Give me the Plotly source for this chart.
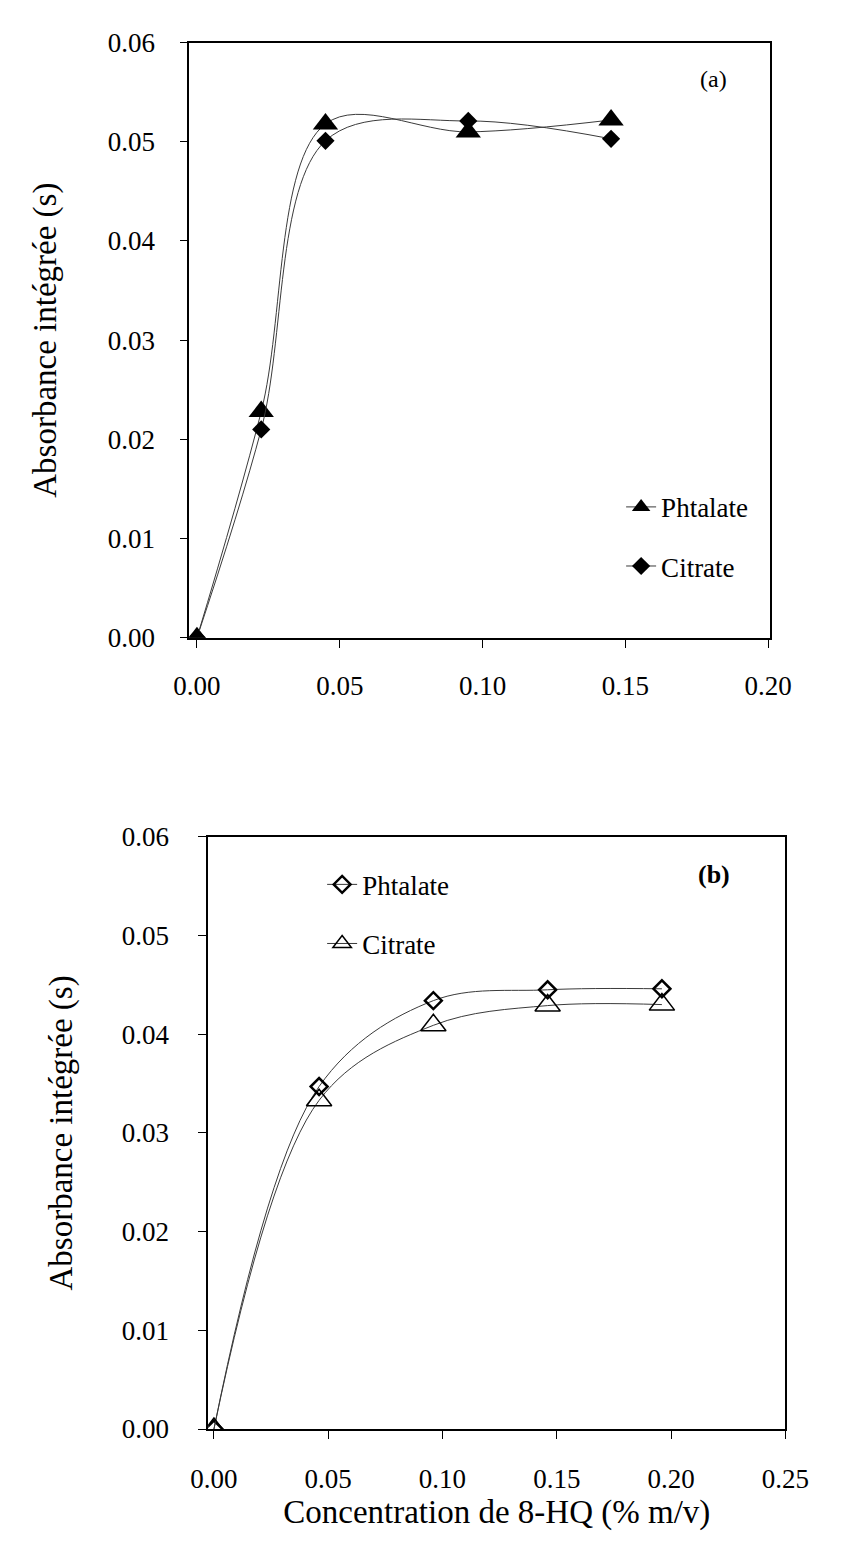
import plotly.graph_objects as go

# Panel (a)
xa = [0.0, 0.0225, 0.045, 0.095, 0.145]
ya_phtalate = [0.0, 0.0228, 0.0518, 0.0510, 0.0522]
ya_citrate = [0.0, 0.0210, 0.0501, 0.0521, 0.0503]

# Panel (b)
xb = [0.0, 0.046, 0.096, 0.146, 0.196]
yb_phtalate = [0.0, 0.0347, 0.0434, 0.0445, 0.0446]
yb_citrate = [0.0, 0.0333, 0.0409, 0.0429, 0.0430]

yticks = [0.0, 0.01, 0.02, 0.03, 0.04, 0.05, 0.06]
xticks_a = [0.0, 0.05, 0.10, 0.15, 0.20]
xticks_b = [0.0, 0.05, 0.10, 0.15, 0.20, 0.25]

FONT = "Liberation Serif"
OFF = 8  # default page body margin
W, H = 842 - 2 * OFF, 1553 - 2 * OFF


def px(v):
    return (v - OFF) / W


def py(v):
    return 1 - (v - OFF) / H


fig = go.Figure()

line_style = dict(color="#3a3a3a", width=1, shape="spline", smoothing=1)

fig.add_trace(go.Scatter(x=xa, y=ya_phtalate, mode="lines+markers", name="Phtalate",
                         line=line_style, legendgroup="a1",
                         marker=dict(symbol="triangle-up", size=22, color="black"),
                         xaxis="x", yaxis="y", legend="legend"))
fig.add_trace(go.Scatter(x=xa, y=ya_citrate, mode="lines+markers", name="Citrate",
                         line=line_style, legendgroup="a2",
                         marker=dict(symbol="diamond", size=14, color="black"),
                         xaxis="x", yaxis="y", legend="legend"))
fig.add_trace(go.Scatter(x=xb, y=yb_phtalate, mode="lines+markers", name="Phtalate",
                         line=line_style, legendgroup="b1",
                         marker=dict(symbol="diamond-open", size=13, color="black",
                                     line=dict(width=2.5, color="black")),
                         xaxis="x2", yaxis="y2", legend="legend2"))
fig.add_trace(go.Scatter(x=xb, y=yb_citrate, mode="lines+markers", name="Citrate",
                         line=line_style, legendgroup="b2",
                         marker=dict(symbol="triangle-up-open", size=22, color="black",
                                     line=dict(width=1.5, color="black")),
                         xaxis="x2", yaxis="y2", legend="legend2"))

axis_common = dict(showline=True, linecolor="black", linewidth=1.5, mirror=True,
                   showgrid=False, zeroline=False, ticks="outside", ticklen=8,
                   tickcolor="black", tickwidth=1.2,
                   tickfont=dict(family=FONT, size=27, color="black"))

title_font = dict(family=FONT, size=33, color="black")
legend_font = dict(family=FONT, size=27, color="black")

fig.update_layout(
    width=W, height=H,
    margin=dict(l=0, r=0, t=0, b=0),
    paper_bgcolor="white", plot_bgcolor="white",
    font=dict(family=FONT, color="black"),
    xaxis=dict(**axis_common, domain=[px(180), px(792)], range=[-0.0027, 0.2007],
               tickvals=xticks_a, tickformat=".2f", anchor="y", ticklabelstandoff=15),
    yaxis=dict(**axis_common, domain=[py(635), py(28)], range=[0, 0.06],
               tickvals=yticks, tickformat=".2f", anchor="x", ticklabelstandoff=19,
               title=dict(text="Absorbance intégrée (s)", font=title_font, standoff=41)),
    xaxis2=dict(**axis_common, domain=[px(200), px(808)], range=[-0.0025, 0.25],
                tickvals=xticks_b, tickformat=".2f", anchor="y2", ticklabelstandoff=17,
                title=dict(text="Concentration de 8-HQ (% m/v)", font=title_font, standoff=0)),
    yaxis2=dict(**axis_common, domain=[py(1442), py(838)], range=[0, 0.06],
                tickvals=yticks, tickformat=".2f", anchor="x2", ticklabelstandoff=24,
                title=dict(text="Absorbance intégrée (s)", font=title_font, standoff=39)),
    legend=dict(x=px(635), y=py(477), xanchor="left", yanchor="top",
                bgcolor="rgba(0,0,0,0)", font=legend_font,
                itemsizing="trace", tracegroupgap=21),
    legend2=dict(x=px(320), y=py(862), xanchor="left", yanchor="top",
                 bgcolor="rgba(0,0,0,0)", font=legend_font,
                 itemsizing="trace", tracegroupgap=21),
    showlegend=True,
)

fig.add_annotation(text="(a)", xref="paper", yref="paper", x=px(749), y=py(50),
                   showarrow=False, font=dict(family=FONT, size=24, color="black"))
fig.add_annotation(text="<b>(b)</b>", xref="paper", yref="paper", x=px(752), y=py(876),
                   showarrow=False, font=dict(family=FONT, size=26, color="black"))

fig.write_html("out.html")
